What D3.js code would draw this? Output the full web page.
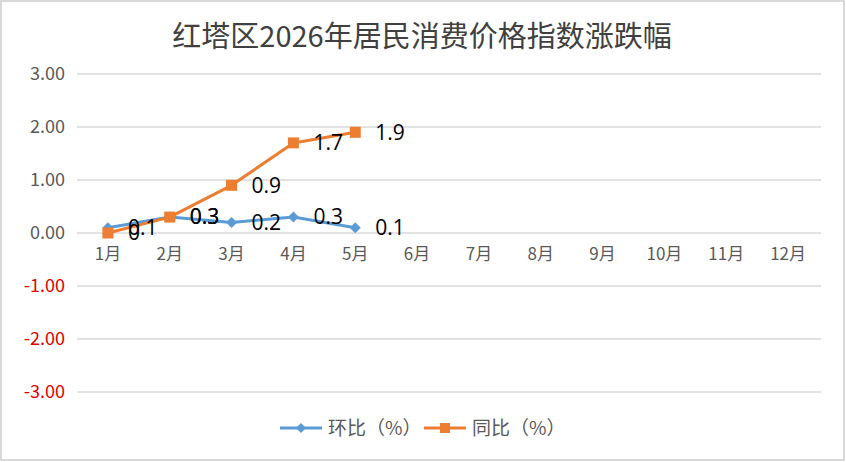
<!DOCTYPE html>
<html>
<head>
<meta charset="utf-8">
<script src="https://cdn.jsdelivr.net/npm/d3@7"></script>
<style>
  body { margin: 0; background: #fff; }
  svg { display: block; font-family: "Noto Sans CJK SC", "Open Sans", sans-serif; }
</style>
</head>
<body>
<svg id="chart"></svg>
<script>
var months = ["1月", "2月", "3月", "4月", "5月", "6月", "7月", "8月", "9月", "10月", "11月", "12月"];
var huanbi = [0.1, 0.3, 0.2, 0.3, 0.1];
var tongbi = [0, 0.3, 0.9, 1.7, 1.9];
var yTicks = [-3, -2, -1, 0, 1, 2, 3];
var seriesNames = ["环比（%）", "同比（%）"];

var svgWidth = 846, svgHeight = 462;
var margin = { top: 74, right: 25, bottom: 70, left: 77 };
var width = 819 - margin.left;
var height = 392 - margin.top;

var svg = d3.select("#chart")
  .attr("width", svgWidth)
  .attr("height", svgHeight);

// outer border
svg.append("rect")
  .attr("x", 1).attr("y", 1)
  .attr("width", svgWidth - 3).attr("height", svgHeight - 3)
  .attr("fill", "#fff")
  .attr("stroke", "#d9d9d9")
  .attr("stroke-width", 2);

svg.append("text")
  .attr("x", 422)
  .attr("y", 47)
  .attr("text-anchor", "middle")
  .attr("fill", "#404040")
  .attr("font-size", 29)
  .text("红塔区2026年居民消费价格指数涨跌幅");

var g = svg.append("g")
  .attr("transform", "translate(" + margin.left + "," + margin.top + ")");

var x = d3.scaleBand()
  .domain(months)
  .range([0, width]);

var y = d3.scaleLinear()
  .domain([-3, 3])
  .range([height, 0]);

// gridlines
g.append("g")
  .selectAll("line")
  .data(yTicks)
  .enter()
  .append("line")
  .attr("x1", 0)
  .attr("x2", width + 2)
  .attr("y1", function (d) { return y(d); })
  .attr("y2", function (d) { return y(d); })
  .attr("stroke", "#d9d9d9")
  .attr("stroke-width", 1.3);

// y axis labels
var yAxis = g.append("g")
  .call(d3.axisLeft(y).tickValues(yTicks).tickSize(0).tickPadding(12)
    .tickFormat(function (d) { return d.toFixed(2); }));
yAxis.select(".domain").remove();
yAxis.selectAll("text")
  .attr("font-size", 18)
  .attr("font-family", "'Noto Sans CJK SC', sans-serif")
  .attr("fill", function (d) { return d < 0 ? "#e00000" : "#595959"; });

// x axis labels at zero line
var xAxis = g.append("g")
  .attr("transform", "translate(0," + y(0) + ")")
  .call(d3.axisBottom(x).tickSize(0).tickPadding(15));
xAxis.select(".domain").remove();
xAxis.selectAll("text")
  .attr("font-size", 17)
  .attr("font-family", "'Noto Sans CJK SC', sans-serif")
  .attr("fill", "#595959");

function cx(i) { return x(months[i]) + x.bandwidth() / 2; }

var line = d3.line()
  .x(function (d, i) { return cx(i); })
  .y(function (d) { return y(d); });

var colors = ["#5b9bd5", "#ed7d31"];
var series = [huanbi, tongbi];

series.forEach(function (data, s) {
  g.append("path")
    .datum(data)
    .attr("fill", "none")
    .attr("stroke", colors[s])
    .attr("stroke-width", 3)
    .attr("stroke-linejoin", "round")
    .attr("d", line);
});

// markers
g.selectAll(".hb")
  .data(huanbi)
  .enter()
  .append("path")
  .attr("d", d3.symbol().type(d3.symbolSquare).size(60))
  .attr("transform", function (d, i) { return "translate(" + cx(i) + "," + y(d) + ") rotate(45)"; })
  .attr("fill", colors[0]);

g.selectAll(".tb")
  .data(tongbi)
  .enter()
  .append("rect")
  .attr("x", function (d, i) { return cx(i) - 5.5; })
  .attr("y", function (d) { return y(d) - 5.5; })
  .attr("width", 11)
  .attr("height", 11)
  .attr("fill", colors[1]);

// data labels
series.forEach(function (data) {
  g.append("g")
    .selectAll("text")
    .data(data)
    .enter()
    .append("text")
    .attr("x", function (d, i) { return cx(i) + 20; })
    .attr("y", function (d) { return y(d); })
    .attr("dy", "0.35em")
    .attr("font-size", 21)
    .attr("font-family", "'Open Sans', 'Noto Sans', sans-serif")
    .attr("fill", "#000")
    .text(function (d) { return d; });
});

// legend
var legend = svg.append("g").attr("transform", "translate(280,428)");
var legendX = [0, 144];
seriesNames.forEach(function (name, s) {
  var lg = legend.append("g").attr("transform", "translate(" + legendX[s] + ",0)");
  lg.append("line")
    .attr("x1", 0).attr("x2", 42)
    .attr("stroke", colors[s])
    .attr("stroke-width", 3);
  if (s === 0) {
    lg.append("path")
      .attr("d", d3.symbol().type(d3.symbolSquare).size(50))
      .attr("transform", "translate(21,0) rotate(45)")
      .attr("fill", colors[s]);
  } else {
    lg.append("rect")
      .attr("x", 16).attr("y", -5).attr("width", 10).attr("height", 10)
      .attr("fill", colors[s]);
  }
  lg.append("text")
    .attr("x", 48)
    .attr("dy", "0.35em")
    .attr("font-size", 19)
    .attr("fill", "#595959")
    .text(name);
});
</script>
</body>
</html>
